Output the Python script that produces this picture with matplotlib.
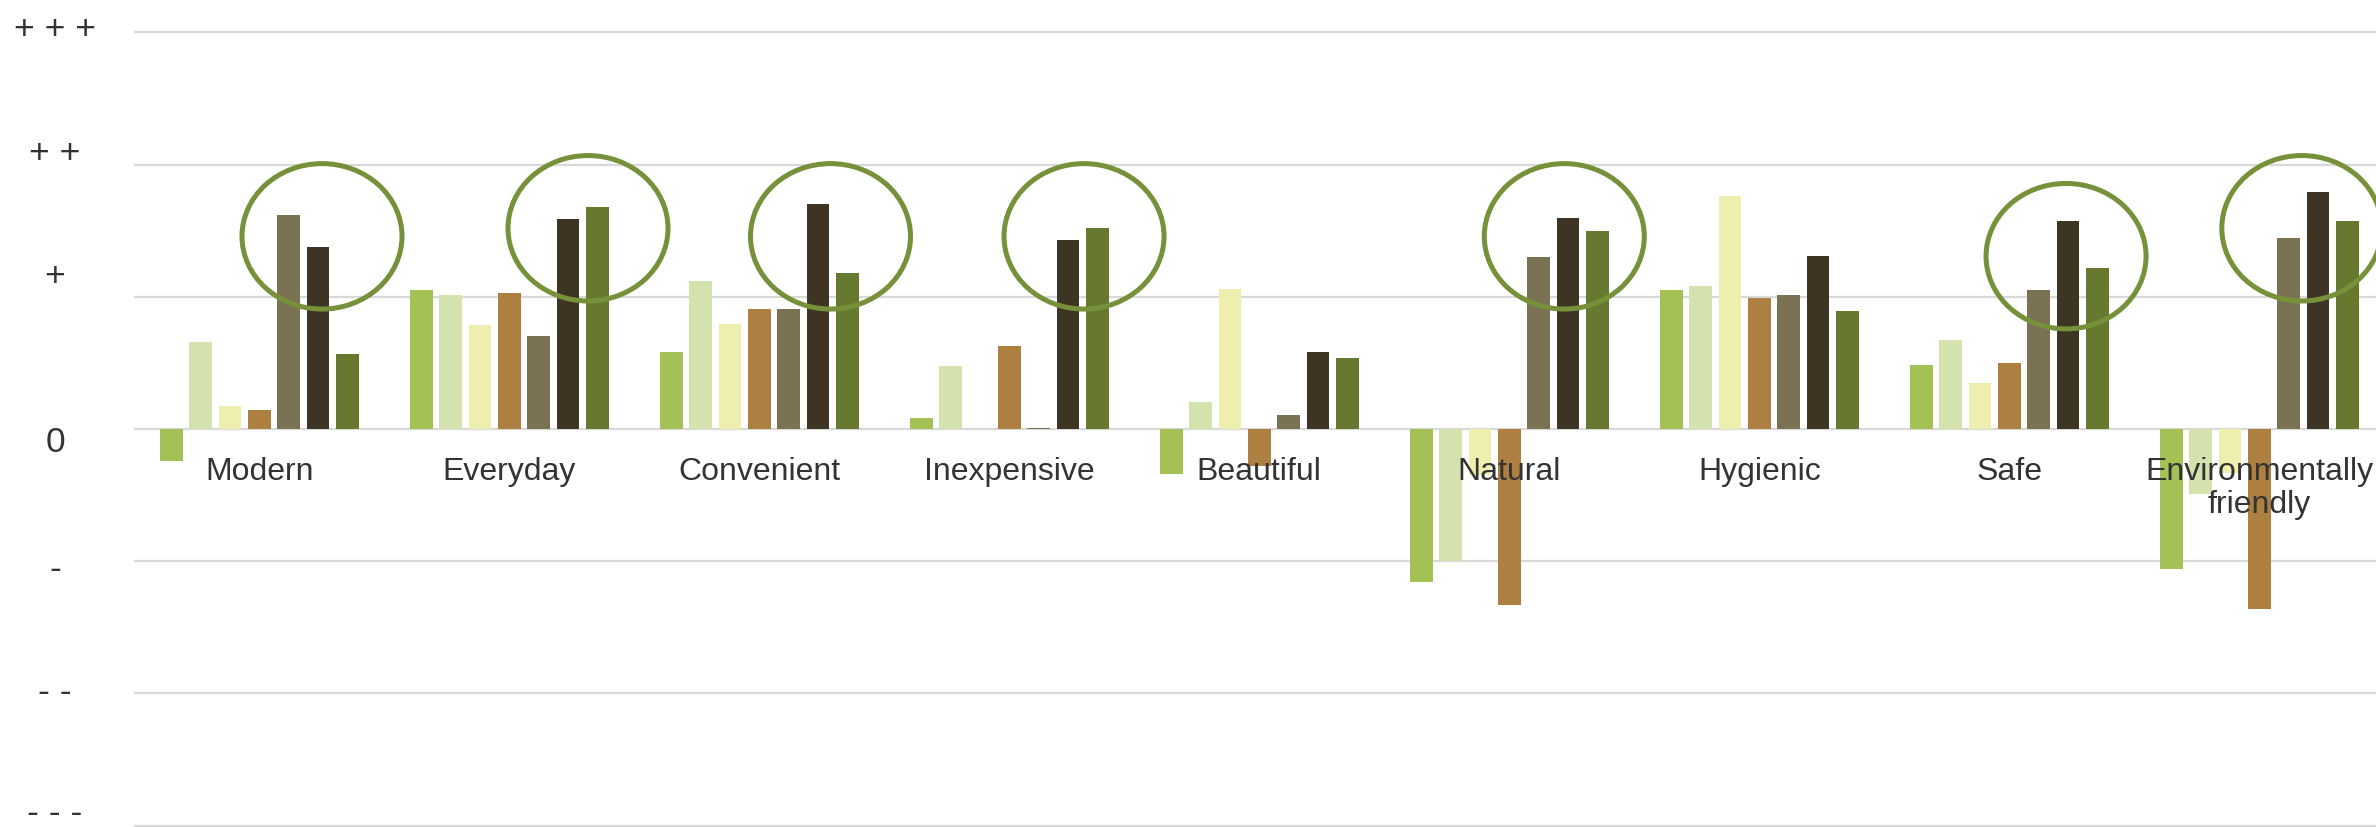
import matplotlib
matplotlib.use("Agg")
import matplotlib.pyplot as plt
from matplotlib.patches import Ellipse
import numpy as np

# ---------------- data ----------------
categories = ["Modern", "Everyday", "Convenient", "Inexpensive", "Beautiful",
              "Natural", "Hygienic", "Safe", "Environmentally\nfriendly"]
series_1 = [-0.24, 1.05, 0.58, 0.08, -0.34, -1.16, 1.05, 0.485, -1.06]
series_2 = [0.655, 1.01, 1.12, 0.48, 0.205, -0.995, 1.08, 0.675, -0.49]
series_3 = [0.175, 0.79, 0.795, 0.0, 1.06, -0.345, 1.76, 0.35, -0.33]
series_4 = [0.14, 1.03, 0.905, 0.625, -0.28, -1.33, 0.99, 0.50, -1.36]
series_5 = [1.62, 0.70, 0.91, 0.01, 0.105, 1.30, 1.01, 1.05, 1.445]
series_6 = [1.38, 1.59, 1.70, 1.43, 0.58, 1.595, 1.31, 1.57, 1.795]
series_7 = [0.57, 1.68, 1.18, 1.52, 0.535, 1.50, 0.895, 1.215, 1.57]
scale_labels = ["+ + +", "+ +", "+", "0", "-", "- -", "- - -"]
scale_levels = [3, 2, 1, 0, -1, -2, -3]

# highlight ellipses (annotation shapes), in data coordinates
highlight_x = [0.251, 1.315, 2.285, 3.299, 5.22, 7.227, 8.17]
highlight_y = [1.457, 1.518, 1.457, 1.457, 1.457, 1.307, 1.518]

# ---------------- style ----------------
colors = ["#A4C155", "#D4E2AE", "#EEEFAE", "#AD7F41", "#7A7253", "#3E3424", "#66792E"]
ring_color = "#77903A"
grid_color = "#D9D9D9"
text_color = "#333333"
font = ["Liberation Sans", "DejaVu Sans"]
plt.rcParams["font.family"] = font

fig = plt.figure(figsize=(23.76, 8.27), dpi=100)
ax = fig.add_axes([0.0565, -0.0015, 0.947, 0.9704])

all_series = [series_1, series_2, series_3, series_4, series_5, series_6, series_7]
x = np.arange(len(categories))
step = 0.1173
width = 0.091
for j, (vals, c) in enumerate(zip(all_series, colors)):
    ax.bar(x + (j - 3) * step, vals, width=width, color=c, zorder=3, linewidth=0)

for lv in scale_levels:
    ax.axhline(lv, color=grid_color, lw=1.6, zorder=1)

for hx, hy in zip(highlight_x, highlight_y):
    ax.add_patch(Ellipse((hx, hy), width=0.64, height=1.10, fill=False,
                         edgecolor=ring_color, lw=3.6, zorder=4))

for i, name in enumerate(categories):
    ax.annotate(name, xy=(i, 0), xytext=(0, -20.3), textcoords="offset points",
                ha="center", va="top", fontsize=23, color=text_color,
                linespacing=1.12, zorder=6, annotation_clip=False)

ax.set_xlim(-0.5, 8.5)
ax.set_ylim(-3.02, 3.0)
ax.set_xticks([])
# label positions as laid out in the original (slightly offset from grid lines)
label_pos = [3.05, 2.11, 1.18, -0.075, -1.036, -1.965, -2.88]
ax.set_yticks(label_pos)
ax.set_yticklabels(scale_labels)
ax.tick_params(axis="y", length=0, pad=57, labelsize=25.5, labelcolor=text_color)
for t in ax.get_yticklabels():
    t.set_horizontalalignment("center")
for s in ax.spines.values():
    s.set_visible(False)

fig.savefig("out.png", dpi=100)
